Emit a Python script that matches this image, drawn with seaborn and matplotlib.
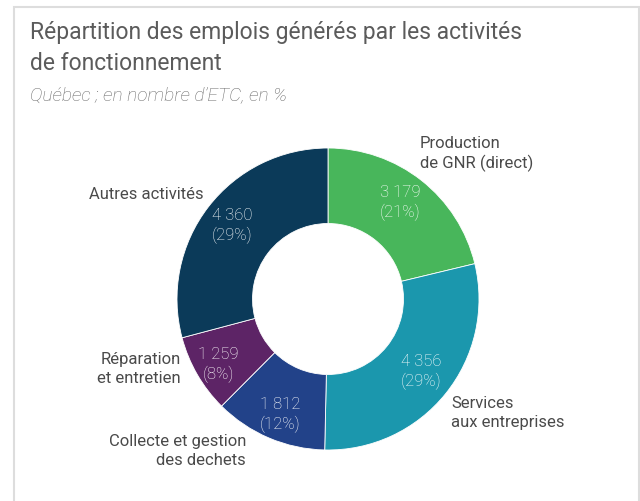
import matplotlib
matplotlib.use("Agg")
import matplotlib.pyplot as plt
from matplotlib.patches import Rectangle
import seaborn as sns

# ---- data ----
categories = ["Production\nde GNR (direct)", "Services\naux entreprises",
              "Collecte et gestion\ndes dechets", "Réparation\net entretien",
              "Autres activités"]
values = [3179, 4356, 1812, 1259, 4360]
value_labels = ["3 179", "4 356", "1 812", "1 259", "4 360"]
pct_labels = ["21%", "29%", "12%", "8%", "29%"]
colors = ["#48b65b", "#1b97ad", "#224289", "#5d2466", "#0b3a59"]

# ---- layout (pie radius units) ----
inner_pos = [(0.477, 0.636), (0.616, -0.483), (-0.318, -0.768),
             (-0.728, -0.437), (-0.636, 0.483)]
outer_pos = [(0.61, 0.96, "left"), (0.815, -0.755, "left"), (-0.543, -1.007, "right"),
             (-0.973, -0.464, "right"), (-0.821, 0.695, "right")]

sns.set_theme(style="white")
plt.rcParams["font.family"] = ["Roboto", "DejaVu Sans"]

W, H = 640, 501
fig = plt.figure(figsize=(W / 100, H / 100), dpi=100)
fig.patch.set_facecolor("white")

cx, cy, R = 328, 299, 151
ax = fig.add_axes([(cx - R) / W, (H - cy - R) / H, 2 * R / W, 2 * R / H])
ax.pie(values, colors=colors, startangle=90, counterclock=False, radius=1.0,
       wedgeprops=dict(width=0.5, edgecolor="white", linewidth=0.6))
ax.set_xlim(-1, 1)
ax.set_ylim(-1, 1)
ax.set_aspect("auto")
ax.axis("off")

for (x, y), v, p in zip(inner_pos, value_labels, pct_labels):
    ax.text(x, y, f"{v}\n({p})", ha="center", va="center", color="white",
            fontsize=12, fontweight="light", linespacing=1.3)

for (x, y, ha), c in zip(outer_pos, categories):
    ax.text(x, y, c, ha=ha, va="center", color="#4a4a4a", fontsize=12,
            fontweight="normal", linespacing=1.3, multialignment=ha)

fig.text(30 / W, 1 - 21 / H, "Répartition des emplois générés par les activités\nde fonctionnement",
         ha="left", va="top", color="#5b5b5b", fontsize=16.5, linespacing=1.45)
fig.text(30 / W, 1 - 86 / H, "Québec ; en nombre d’ETC, en %", ha="left", va="top",
         color="#6a6a6a", fontsize=13.8, fontstyle="italic", fontweight="light")

fig.add_artist(Rectangle((13.5 / W, -0.05), (638.5 - 13.5) / W, 1.05 - 7 / H,
                         transform=fig.transFigure, fill=False,
                         edgecolor="#dddddd", linewidth=1.5))

fig.savefig("out.png", dpi=100)
